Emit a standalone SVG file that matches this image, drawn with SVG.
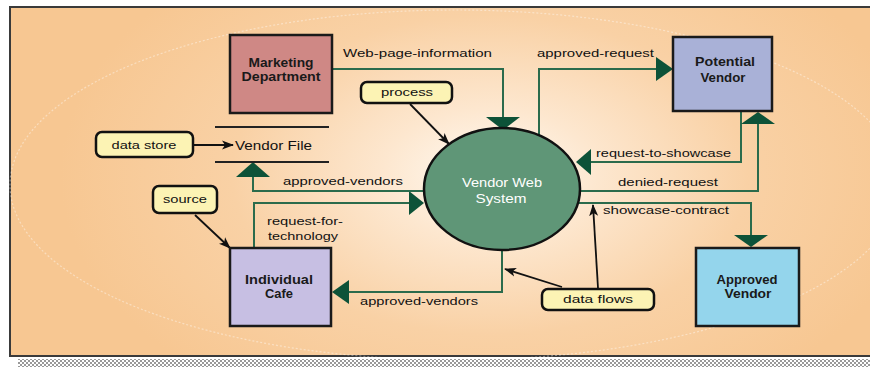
<svg xmlns="http://www.w3.org/2000/svg" width="870" height="367" viewBox="0 0 870 367">
<defs>
<radialGradient id="bg" gradientUnits="userSpaceOnUse" cx="490" cy="175" r="430" gradientTransform="translate(490 175) scale(1 0.62) translate(-490 -175)">
<stop offset="0" stop-color="#fffaf3"/>
<stop offset="0.25" stop-color="#fde7cf"/>
<stop offset="0.6" stop-color="#f9d1a5"/>
<stop offset="1" stop-color="#f7c792"/>
</radialGradient>
<pattern id="chk" width="4" height="4" patternUnits="userSpaceOnUse">
<rect width="4" height="4" fill="#ffffff"/>
<rect width="2" height="2" fill="#999999"/>
<rect x="2" y="2" width="2" height="2" fill="#999999"/>
</pattern>
<marker id="blk" viewBox="0 0 12 10" refX="11" refY="5" markerWidth="12" markerHeight="10" markerUnits="userSpaceOnUse" orient="auto">
<path d="M0,0.5 L12,5 L0,9.5 L3,5 Z" fill="#111"/>
</marker>
</defs>
<style>
.lbl{font-family:"Liberation Sans",Arial,sans-serif;font-size:11px;fill:#111}
.bx{font-family:"Liberation Sans",Arial,sans-serif;font-size:12px;fill:#1a1a1a;font-weight:bold;text-anchor:middle}
.ent{stroke:#1a1a1a;stroke-width:2.5}
.call{fill:#fcf3b4;stroke:#111;stroke-width:2.5}
.ctx{font-family:"Liberation Sans",Arial,sans-serif;font-size:11px;fill:#111;text-anchor:middle}
.flow{fill:none;stroke:#2b6b4c;stroke-width:2}
.ah{fill:#0d5238}
.ptr{fill:none;stroke:#111;stroke-width:1.8}
</style>

<rect x="10" y="7" width="875" height="349" fill="url(#bg)" stroke="#3a3a3a" stroke-width="2"/>
<ellipse cx="455" cy="185" rx="445" ry="175" fill="none" stroke="#ffffff" stroke-opacity="0.4" stroke-width="1.2" stroke-dasharray="2 2"/>
<rect x="18" y="359" width="852" height="8" fill="url(#chk)"/>

<g id="connectors">
<path class="flow" d="M332,69 H503 V117"/>
<polygon class="ah" points="486,117 520,117 503,130"/>
<path class="flow" d="M539,136 V69 H656"/>
<polygon class="ah" points="656,57 656,81 673,69"/>
<path class="flow" d="M741,111 V162 H591"/>
<polygon class="ah" points="591,149 591,175 576,162"/>
<path class="flow" d="M580,191 H758 V124"/>
<polygon class="ah" points="741,124 775,124 758,112"/>
<path class="flow" d="M578,203 H751 V235"/>
<polygon class="ah" points="734,235 768,235 751,247"/>
<path class="flow" d="M502,250 V292 H349"/>
<polygon class="ah" points="349,280 349,304 332,292"/>
<path class="flow" d="M254,248 V203 H409"/>
<polygon class="ah" points="409,191 409,215 424,203"/>
<path class="flow" d="M424,191 H253 V177"/>
<polygon class="ah" points="236,177 270,177 253,162"/>
<path d="M193,145 H233" stroke="#111" stroke-width="2" fill="none" marker-end="url(#blk)"/>
<path class="ptr" d="M410,104 L449,144" marker-end="url(#blk)"/>
<path class="ptr" d="M195,215 L230,248" marker-end="url(#blk)"/>
<path class="ptr" d="M562,287 L505,269" marker-end="url(#blk)"/>
<path class="ptr" d="M598,288 L593,205" marker-end="url(#blk)"/>
</g>

<g id="flow-labels">
<text class="lbl" x="343" y="57" textLength="149" lengthAdjust="spacingAndGlyphs">Web-page-information</text>
<text class="lbl" x="537" y="57" textLength="117" lengthAdjust="spacingAndGlyphs">approved-request</text>
<text class="lbl" x="596" y="157" textLength="135" lengthAdjust="spacingAndGlyphs">request-to-showcase</text>
<text class="lbl" x="618" y="186" textLength="100" lengthAdjust="spacingAndGlyphs">denied-request</text>
<text class="lbl" x="603" y="214" textLength="126" lengthAdjust="spacingAndGlyphs">showcase-contract</text>
<text class="lbl" x="283" y="185" textLength="120" lengthAdjust="spacingAndGlyphs">approved-vendors</text>
<text class="lbl" x="267" y="225" textLength="76" lengthAdjust="spacingAndGlyphs">request-for-</text>
<text class="lbl" x="268" y="240" textLength="70" lengthAdjust="spacingAndGlyphs">technology</text>
<text class="lbl" x="360" y="305" textLength="118" lengthAdjust="spacingAndGlyphs">approved-vendors</text>
</g>

<g id="marketing">
<rect class="ent" x="230" y="35" width="102" height="78" fill="#cf8885"/>
<text class="bx" x="281" y="67" textLength="65" lengthAdjust="spacingAndGlyphs">Marketing</text>
<text class="bx" x="281" y="81" textLength="79" lengthAdjust="spacingAndGlyphs">Department</text>
</g>

<g id="potential-vendor">
<rect class="ent" x="673" y="37" width="99" height="74" fill="#a9b1d7"/>
<text class="bx" x="725" y="66" textLength="60" lengthAdjust="spacingAndGlyphs">Potential</text>
<text class="bx" x="723" y="82" textLength="45" lengthAdjust="spacingAndGlyphs">Vendor</text>
</g>

<g id="individual-cafe">
<rect class="ent" x="230" y="248" width="101" height="78" fill="#c7bfe3"/>
<text class="bx" x="279" y="284" textLength="68" lengthAdjust="spacingAndGlyphs">Individual</text>
<text class="bx" x="279" y="298" textLength="28" lengthAdjust="spacingAndGlyphs">Cafe</text>
</g>

<g id="approved-vendor">
<rect class="ent" x="696" y="248" width="103" height="78" fill="#94d5ec"/>
<text class="bx" x="747" y="284" textLength="61" lengthAdjust="spacingAndGlyphs">Approved</text>
<text class="bx" x="748" y="298" textLength="47" lengthAdjust="spacingAndGlyphs">Vendor</text>
</g>

<g id="vendor-web-system">
<ellipse cx="502" cy="189" rx="78" ry="61" fill="#5f9677" stroke="#111" stroke-width="2.5"/>
<text class="bx" x="502" y="187" style="fill:#ffffff;font-weight:normal" textLength="80" lengthAdjust="spacingAndGlyphs">Vendor Web</text>
<text class="bx" x="501" y="203" style="fill:#ffffff;font-weight:normal" textLength="51" lengthAdjust="spacingAndGlyphs">System</text>
</g>

<g id="vendor-file">
<line x1="215" y1="127" x2="329" y2="127" stroke="#222" stroke-width="2"/>
<line x1="215" y1="162" x2="329" y2="162" stroke="#222" stroke-width="2"/>
<text class="lbl" x="235" y="150" style="font-size:13px" textLength="77" lengthAdjust="spacingAndGlyphs">Vendor File</text>
</g>

<g id="callout-process">
<rect class="call" x="361" y="82" width="91" height="21" rx="6"/>
<text class="ctx" x="407" y="96" textLength="52" lengthAdjust="spacingAndGlyphs">process</text>
</g>

<g id="callout-data-store">
<rect class="call" x="96" y="132" width="97" height="25" rx="6"/>
<text class="ctx" x="144" y="149" textLength="65" lengthAdjust="spacingAndGlyphs">data store</text>
</g>

<g id="callout-source">
<rect class="call" x="153" y="186" width="64" height="27" rx="6"/>
<text class="ctx" x="185" y="203" textLength="44" lengthAdjust="spacingAndGlyphs">source</text>
</g>

<g id="callout-data-flows">
<rect class="call" x="542" y="289" width="112" height="21" rx="6"/>
<text class="ctx" x="598" y="303" textLength="70" lengthAdjust="spacingAndGlyphs">data flows</text>
</g>
</svg>
